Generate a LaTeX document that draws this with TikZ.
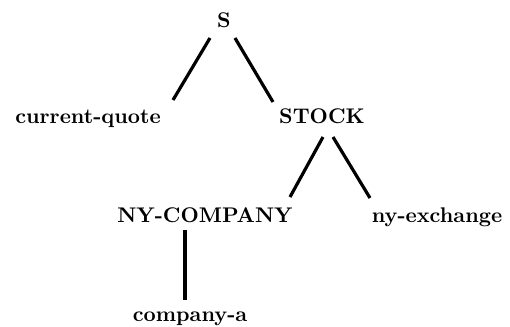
\documentclass[tikz,border=0pt]{standalone}
\usetikzlibrary{calc}

\begin{document}
\begin{tikzpicture}[x=0.5pt, y=-0.5pt, every node/.style={font=\fontsize{10.6}{12}\selectfont\bfseries, inner sep=0pt, anchor=base}]
		\useasboundingbox (0,0) rectangle (510,327);
		\node (s) at (224,27) {S};
		\node (cq) at (88,123) {current-quote};
		\node (stock) at (322,123) {STOCK};
		\node (nyc) at (205,222) {NY-COMPANY};
		\node (nye) at (437,222) {ny-exchange};
		\node (ca) at (190,321) {company-a};
		\draw[ultra thick] ($(s.base)+(-14,11)$) -- ($(cq.base)+(85,-23)$);
		\draw[ultra thick] ($(s.base)+(11,11)$) -- ($(stock.base)+(-49,-21)$);
		\draw[ultra thick] ($(stock.base)+(1,14)$) -- ($(nyc.base)+(85,-25)$);
		\draw[ultra thick] ($(stock.base)+(11,14)$) -- ($(nye.base)+(-67,-24)$);
		\draw[ultra thick] ($(nyc.base)+(-20,8)$) -- ($(ca.base)+(-5,-21)$);
	\end{tikzpicture}
\end{document}
